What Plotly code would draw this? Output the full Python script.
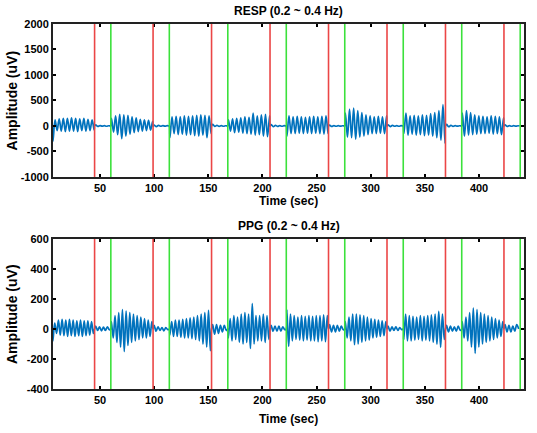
import plotly.graph_objects as go
from plotly.subplots import make_subplots

# ---- data ----
stim_onsets = [6, 60, 114, 168, 222, 276, 330, 384]      # start of each block
red_lines = [45, 99, 153, 207, 261, 315, 369, 423]
green_lines = [60, 114, 168, 222, 276, 330, 384, 438]
block_len = 39

resp_rel_t = [0.6, 2.5, 4.4, 6.3, 8.2, 10.1, 12.0, 13.9, 15.8, 17.7, 19.6,
              21.5, 23.4, 25.3, 27.2, 29.1, 31.0, 32.9, 34.8, 36.7, 38.6]
resp_blocks = [
    [-300, 120, -90, 140, -100, 150, -110, 150, -100, 160, -100, 150, -110, 140, -90, 150, -100, 130, -90, 120, -80],
    [150, -120, 200, -170, 230, -250, 220, -200, 210, -160, 180, -130, 160, -110, 130, -100, 120, -90, 110, -80, 90],
    [-230, 180, -150, 190, -170, 180, -160, 200, -180, 190, -170, 200, -190, 210, -200, 220, -180, 210, -230, 200, -150],
    [120, -100, 140, -130, 150, -120, 160, -140, 180, -150, 170, -160, 250, -180, 200, -170, 220, -200, 230, -210, 200],
    [-200, 200, -150, 180, -150, 190, -140, 180, -150, 170, -140, 180, -150, 190, -140, 180, -150, 190, -160, 200, -150],
    [250, -220, 330, -230, 350, -260, 300, -220, 260, -200, 220, -170, 200, -150, 180, -150, 190, -140, 180, -150, 200],
    [-150, 250, -180, 200, -160, 210, -180, 200, -170, 220, -190, 210, -180, 240, -200, 260, -230, 300, -280, 420, -340],
    [250, -200, 300, -180, 260, -170, 220, -160, 200, -150, 190, -150, 180, -140, 200, -160, 190, -150, 180, -170, 160],
]
resp_rest_t = [1.0, 3.0, 5.0, 7.0, 9.0, 11.0, 13.0, 14.5]
resp_rest = [
    [20, -10, 8, -5, 6, -6, 4, 0],
    [15, -12, 10, -6, 8, -5, 5, 0],
    [30, -10, 12, -8, 6, -6, 4, 0],
    [25, -15, 10, -8, 8, -6, 5, 0],
    [15, -10, 8, -6, 6, -5, 4, 0],
    [20, -12, 10, -6, 8, -6, 5, 0],
    [30, -15, 12, -8, 6, -5, 4, 0],
    [20, -10, 8, -6, 6, -5, 4, 0],
]

ppg_rel_t = [0.5, 2.2, 3.9, 5.6, 7.3, 9.0, 10.7, 12.4, 14.1, 15.8, 17.5, 19.2,
             20.9, 22.6, 24.3, 26.0, 27.7, 29.4, 31.1, 32.8, 34.5, 36.2, 37.9]
ppg_blocks = [
    [-80, 40, -30, 60, -40, 65, -45, 60, -50, 65, -45, 60, -50, 55, -45, 60, -50, 55, -45, 55, -40, 50, -30],
    [50, -60, 90, -90, 110, -120, 130, -150, 120, -110, 110, -90, 100, -80, 90, -70, 80, -60, 70, -60, 60, -50, 50],
    [-40, 50, -50, 60, -50, 60, -55, 65, -60, 70, -60, 75, -65, 80, -70, 90, -80, 100, -100, 110, -120, 125, -145],
    [-60, 70, -80, 90, -70, 80, -90, 100, -100, 110, -90, 100, -130, 170, -100, 90, -80, 90, -80, 100, -90, 90, -70],
    [130, -115, 100, -80, 90, -70, 80, -75, 90, -80, 85, -75, 90, -80, 85, -80, 90, -85, 90, -80, 95, -85, 90],
    [50, -60, 80, -80, 100, -105, 100, -100, 95, -90, 90, -80, 80, -75, 70, -60, 65, -55, 60, -50, 55, -45, 50],
    [-70, 100, -80, 90, -80, 85, -75, 80, -70, 90, -80, 85, -75, 90, -80, 95, -90, 100, -100, 118, -122, 100, -70],
    [50, -60, 80, -80, 110, -120, 140, -162, 130, -120, 110, -100, 100, -90, 90, -80, 80, -70, 70, -60, 60, -50, 50],
]
ppg_rest_t = [1.0, 2.8, 4.6, 6.4, 8.2, 10.0, 11.8, 13.6]
ppg_rest = [
    [20, -10, 15, -12, 12, -10, 15, -5],
    [25, -15, 15, -10, 10, -12, 10, -5],
    [30, -35, 30, -30, 25, -20, 25, -10],
    [25, -15, 20, -15, 20, -15, 15, -5],
    [30, -20, 25, -20, 25, -15, 20, -5],
    [20, -15, 15, -10, 15, -10, 10, -5],
    [25, -20, 20, -15, 15, -15, 20, -10],
    [30, -20, 25, -20, 20, -15, 30, 0],
]

x_range = [6.6, 441.5]
x_ticks = [50, 100, 150, 200, 250, 300, 350, 400]
resp_ticks = [-1000, -500, 0, 500, 1000, 1500, 2000]
ppg_ticks = [-400, -200, 0, 200, 400, 600]


def build(rel_t, blocks, rest_t, rests):
    ts, vs = [], []
    for k, onset in enumerate(stim_onsets):
        ts.append(onset); vs.append(0)
        for r, v in zip(rel_t, blocks[k]):
            ts.append(onset + r); vs.append(v)
        ts.append(onset + block_len); vs.append(0)
        rstart = red_lines[k]
        for r, v in zip(rest_t, rests[k]):
            ts.append(rstart + r); vs.append(v)
    return ts, vs


resp_t, resp_v = build(resp_rel_t, resp_blocks, resp_rest_t, resp_rest)
ppg_t, ppg_v = build(ppg_rel_t, ppg_blocks, ppg_rest_t, ppg_rest)

# ---- figure ----
FONT = "Liberation Sans"
fig = make_subplots(rows=2, cols=1)
blue = "#0072BD"
fig.add_trace(go.Scatter(x=resp_t, y=resp_v, mode="lines",
                         line=dict(color=blue, width=1.7, shape="spline", smoothing=1.0),
                         showlegend=False), row=1, col=1)
fig.add_trace(go.Scatter(x=ppg_t, y=ppg_v, mode="lines",
                         line=dict(color=blue, width=1.7, shape="spline", smoothing=1.0),
                         showlegend=False), row=2, col=1)

red = "rgb(235,70,70)"
green = "rgb(60,225,60)"
for xr, yr in [("x", "y"), ("x2", "y2")]:
    for t in red_lines:
        fig.add_shape(type="line", xref=xr, yref=yr + " domain", x0=t, x1=t, y0=0, y1=1,
                      line=dict(color=red, width=1.6))
    for t in green_lines:
        fig.add_shape(type="line", xref=xr, yref=yr + " domain", x0=t, x1=t, y0=0, y1=1,
                      line=dict(color=green, width=1.6))

tickfont = dict(family=FONT, size=11, color="black", weight="bold")
titlefont = dict(family=FONT, size=12, color="black", weight="bold")
ytitlefont = dict(family=FONT, size=14, color="black", weight="bold")
common_x = dict(range=x_range, tickmode="array", tickvals=x_ticks,
                ticktext=[str(v) for v in x_ticks],
                ticks="inside", ticklen=3, tickwidth=1.5, tickcolor="black",
                showline=True, linecolor="#222", linewidth=2, mirror="ticks",
                showgrid=False, zeroline=False, tickfont=tickfont, automargin=False)
fig.update_xaxes(**common_x, row=1, col=1)
fig.update_xaxes(**common_x, row=2, col=1)
common_y = dict(ticks="inside", ticklen=3, tickwidth=1.5, tickcolor="black",
                showline=True, linecolor="#222", linewidth=2, mirror="ticks",
                showgrid=False, zeroline=False, tickfont=tickfont, automargin=False,
                tickmode="array")
fig.update_yaxes(**common_y, range=[-1000, 2000], tickvals=resp_ticks,
                 ticktext=[str(v) for v in resp_ticks], row=1, col=1)
fig.update_yaxes(**common_y, range=[-400, 600], tickvals=ppg_ticks,
                 ticktext=[str(v) for v in ppg_ticks], row=2, col=1)

top_dom = [0.581, 1.0]
bot_dom = [0.0, 0.411]
fig.update_layout(
    width=537, height=433,
    margin=dict(l=53, r=13, t=24, b=44, autoexpand=False),
    paper_bgcolor="white", plot_bgcolor="white",
    xaxis=dict(domain=[0, 1]), xaxis2=dict(domain=[0, 1]),
    yaxis=dict(domain=top_dom), yaxis2=dict(domain=bot_dom),
    annotations=[
        dict(text="RESP (0.2 ~ 0.4 Hz)", xref="paper", yref="paper", x=0.5, y=top_dom[1],
             yanchor="bottom", yshift=4, showarrow=False, font=titlefont),
        dict(text="PPG (0.2 ~ 0.4 Hz)", xref="paper", yref="paper", x=0.5, y=bot_dom[1],
             yanchor="bottom", yshift=4, showarrow=False, font=titlefont),
        dict(text="Time (sec)", xref="paper", yref="paper", x=0.5, y=top_dom[0],
             yanchor="top", yshift=-15, showarrow=False, font=titlefont),
        dict(text="Time (sec)", xref="paper", yref="paper", x=0.5, y=bot_dom[0],
             yanchor="top", yshift=-21, showarrow=False, font=titlefont),
        dict(text="Amplitude (uV)", xref="paper", yref="paper", x=0, xanchor="center",
             yanchor="middle", xshift=-41,
             y=(top_dom[0] + top_dom[1]) / 2, textangle=-90, showarrow=False, font=ytitlefont),
        dict(text="Amplitude (uV)", xref="paper", yref="paper", x=0, xanchor="center",
             yanchor="middle", xshift=-41,
             y=(bot_dom[0] + bot_dom[1]) / 2, textangle=-90, showarrow=False, font=ytitlefont),
    ],
)

fig.write_html("out.html", config={"displayModeBar": False},
               post_script="document.body.style.margin='0';document.body.style.overflow='hidden';")
